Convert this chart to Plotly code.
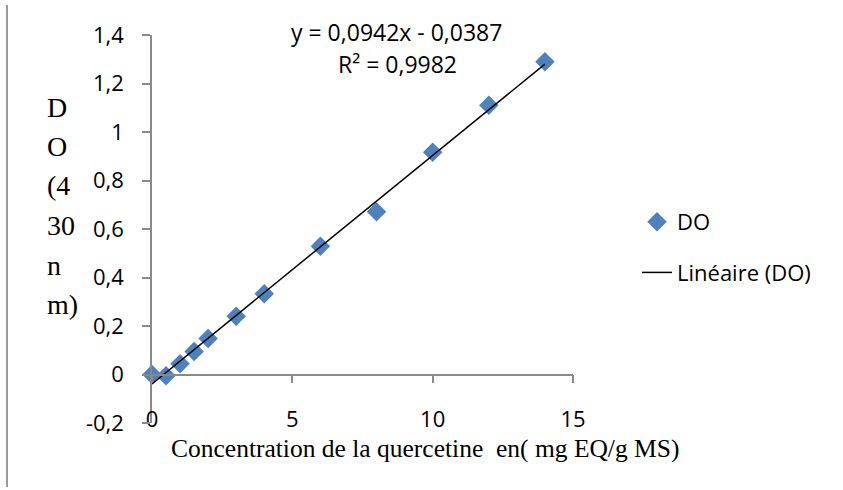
import plotly.graph_objects as go

# ---- data ----
conc = [0, 0.5, 1, 1.5, 2, 3, 4, 6, 8, 10, 12, 14]
do_vals = [0.0, -0.005, 0.044, 0.095, 0.148, 0.24, 0.333, 0.529, 0.671, 0.917, 1.11, 1.29]
slope = 0.0942
intercept = -0.0387
r2 = 0.9982
y_ticks = [-0.2, 0, 0.2, 0.4, 0.6, 0.8, 1.0, 1.2, 1.4]
x_ticks = [0, 5, 10, 15]
y_title_lines = ["D", "O", "(4", "30", "n", "m)"]

def fr(v):
    return f"{v:g}".replace(".", ",")

fit_x = [min(conc), max(conc)]
fit_y = [slope * v + intercept for v in fit_x]

W, H = 843, 490
L, R, T, B = 152, 270, 35, 67
pw, ph = W - L - R, H - T - B

def px_x(p):
    return (p - L) / pw

def px_y(p):
    return (H - B - p) / ph

SANS = "Open Sans, Lato, sans-serif"
SERIF = "Liberation Serif, Times New Roman, serif"
GRAY = "#898989"

fig = go.Figure()
fig.add_trace(go.Scatter(
    x=conc, y=do_vals, mode="markers", name="DO", legendgroup="a", cliponaxis=False,
    marker=dict(symbol="diamond", size=15, color="#4F81BD", line=dict(width=0)),
))
fig.add_trace(go.Scatter(
    x=fit_x, y=fit_y, mode="lines", name="Linéaire (DO)", legendgroup="b",
    line=dict(color="black", width=1.5),
))

annotations = [
    dict(text=f"y = {fr(slope)}x - {fr(-intercept)}", xref="paper", yref="paper",
         x=px_x(396), y=px_y(32), showarrow=False, xanchor="center", yanchor="middle",
         font=dict(family=SANS, size=23, color="black")),
    dict(text=f"R² = {fr(r2)}", xref="paper", yref="paper",
         x=px_x(397), y=px_y(64), showarrow=False, xanchor="center", yanchor="middle",
         font=dict(family=SANS, size=23, color="black")),
]
baselines = [115, 154.5, 194, 233.5, 273, 312.5]
for txt, bl in zip(y_title_lines, baselines):
    annotations.append(dict(
        text=txt, xref="paper", yref="paper", x=px_x(45), y=px_y(bl - 8),
        showarrow=False, xanchor="left", yanchor="middle",
        font=dict(family=SERIF, size=28, color="black")))
annotations.append(dict(
    text="Concentration de la quercetine\u00a0 en( mg EQ/g MS)", xref="paper", yref="paper",
    x=px_x(425), y=px_y(448), showarrow=False, xanchor="center", yanchor="middle",
    font=dict(family=SERIF, size=25.5, color="black")))

fig.update_layout(
    width=W, height=H,
    margin=dict(l=L, r=R, t=T, b=B, pad=0),
    paper_bgcolor="white", plot_bgcolor="white",
    separators=", ",
    showlegend=True,
    legend=dict(x=px_x(637), y=px_y(201), xanchor="left", yanchor="top",
                font=dict(family=SANS, size=22, color="black"),
                tracegroupgap=19, bgcolor="rgba(0,0,0,0)"),
    annotations=annotations,
    shapes=[dict(type="line", xref="paper", yref="paper",
                 x0=px_x(7), x1=px_x(7), y0=px_y(5), y1=px_y(487),
                 line=dict(color="#999999", width=2))],
    xaxis=dict(range=[0, 15], tickvals=x_ticks, ticktext=[fr(v) for v in x_ticks],
               showgrid=False, zeroline=False, showline=True, linecolor=GRAY, linewidth=1.5,
               ticks="outside", ticklen=8, tickcolor=GRAY, tickwidth=1.5,
               anchor="free", position=(0 - y_ticks[0]) / (y_ticks[-1] - y_ticks[0]),
               ticklabelstandoff=17,
               tickfont=dict(family=SANS, size=22, color="black")),
    yaxis=dict(range=[y_ticks[0], y_ticks[-1]], tickvals=y_ticks, ticktext=[fr(v) for v in y_ticks],
               showgrid=False, zeroline=False, showline=True, linecolor=GRAY, linewidth=1.5,
               ticks="outside", ticklen=8, tickcolor=GRAY, tickwidth=1.5,
               ticklabelstandoff=14,
               tickfont=dict(family=SANS, size=22, color="black")),
)

fig.write_html("out.html")
